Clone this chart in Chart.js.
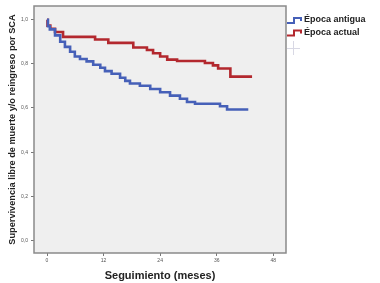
<!DOCTYPE html>
<html><head><meta charset="utf-8">
<script src="https://cdn.jsdelivr.net/npm/chart.js@4"></script>
<style>html,body{margin:0;padding:0;background:#fff}#w{width:380px;height:283px}</style>
</head><body><div id="w"><canvas id="c"></canvas></div>
<script>
const seriesNames = ['Época antigua', 'Época actual'];
const tAntigua = [0, 0.2, 0.6, 1.7, 2.8, 3.8, 4.9, 5.9, 7.0, 8.4, 9.8, 11.3, 12.3, 13.7, 15.5, 16.6, 17.6, 19.7, 21.9, 24.0, 26.1, 28.2, 29.7, 31.4, 36.7, 38.2, 42.7];
const sAntigua = [1.0, 0.97, 0.956, 0.929, 0.900, 0.877, 0.855, 0.833, 0.822, 0.811, 0.796, 0.782, 0.767, 0.755, 0.737, 0.723, 0.711, 0.701, 0.686, 0.671, 0.656, 0.642, 0.627, 0.619, 0.608, 0.593, 0.593];
const tActual = [0, 0.1, 0.7, 1.7, 3.4, 10.2, 13.0, 18.3, 21.2, 22.5, 24.0, 25.5, 27.6, 33.5, 35.2, 36.3, 38.9, 43.5];
const sActual = [1.0, 0.973, 0.959, 0.944, 0.922, 0.910, 0.895, 0.874, 0.863, 0.848, 0.833, 0.819, 0.813, 0.804, 0.793, 0.779, 0.742, 0.742];
const xTicks = [0, 12, 24, 36, 48];
const yTicks = [0, 0.2, 0.4, 0.6, 0.8, 1.0];
const xTitle = 'Seguimiento (meses)';
const yTitle = 'Supervivencia libre de muerte y/o reingreso por SCA';
const colors = ['#4660b8', '#b3282e'];

const toPts = (t, s) => t.map((x, i) => ({x: x, y: s[i]}));

const boxPlugin = {
  id: 'box',
  beforeDatasetsDraw(chart) {
    const {ctx, chartArea: a} = chart;
    ctx.save();
    ctx.fillStyle = '#efefef';
    ctx.fillRect(a.left, a.top, a.right - a.left, a.bottom - a.top);
    ctx.restore();
  },
  afterDraw(chart) {
    const {ctx, chartArea: a} = chart;
    ctx.save();
    ctx.strokeStyle = '#8a8a8a';
    ctx.lineWidth = 1.5;
    ctx.strokeRect(a.left, a.top, a.right - a.left, a.bottom - a.top);
    // legend
    ctx.font = 'bold 9px "Liberation Sans", Arial, sans-serif';
    ctx.textBaseline = 'middle';
    ctx.textAlign = 'left';
    chart.data.datasets.forEach((ds, i) => {
      const y = 20 + i * 12.5;
      ctx.strokeStyle = ds.borderColor;
      ctx.lineWidth = 2;
      ctx.beginPath();
      ctx.moveTo(287, y + 3);
      ctx.lineTo(294, y + 3);
      ctx.lineTo(294, y - 2);
      ctx.lineTo(301, y - 2);
      ctx.lineTo(301, y + 1);
      ctx.stroke();
      ctx.fillStyle = '#222';
      ctx.fillText(ds.label, 304, y);
    });
    // faint crosshair artifact
    ctx.strokeStyle = '#d8d8e4';
    ctx.lineWidth = 1;
    ctx.beginPath();
    ctx.moveTo(293.5, 41); ctx.lineTo(293.5, 55);
    ctx.moveTo(287, 48.5); ctx.lineTo(300, 48.5);
    ctx.stroke();
    ctx.restore();
  }
};

new Chart(document.getElementById('c'), {
  type: 'line',
  data: {
    datasets: [
      {label: seriesNames[0], data: toPts(tAntigua, sAntigua), borderColor: colors[0], borderWidth: 2.6, stepped: 'before', pointRadius: 0, fill: false},
      {label: seriesNames[1], data: toPts(tActual, sActual), borderColor: colors[1], borderWidth: 2.6, stepped: 'before', pointRadius: 0, fill: false}
    ]
  },
  options: {
    animation: false,
    responsive: true,
    maintainAspectRatio: false,
    layout: {padding: {left: 0, right: 94, top: 1, bottom: 0}},
    plugins: {legend: {display: false}, tooltip: {enabled: false}},
    scales: {
      x: {
        type: 'linear', min: -2.76, max: 50.7,
        afterBuildTicks: s => { s.ticks = xTicks.map(v => ({value: v})); },
        afterFit: s => { s.height = 30; },
        grid: {drawOnChartArea: false, drawTicks: true, tickLength: 3, color: '#777'},
        border: {display: false},
        ticks: {font: {size: 5, family: 'Arial, sans-serif'}, color: '#555', padding: 2, maxRotation: 0, autoSkip: false,
          callback: v => String(v)},
        title: {display: true, text: xTitle, font: {size: 11, weight: 'bold', family: '"Liberation Sans", Arial, sans-serif'}, color: '#222', padding: {top: 0, bottom: 0}}
      },
      y: {
        type: 'linear', min: -0.057, max: 1.062,
        afterBuildTicks: s => { s.ticks = yTicks.map(v => ({value: v})); },
        afterFit: s => { s.width = 34; },
        grid: {drawOnChartArea: false, drawTicks: true, tickLength: 3, color: '#777'},
        border: {display: false},
        ticks: {font: {size: 5, family: 'Arial, sans-serif'}, color: '#555', padding: 3, autoSkip: false,
          callback: v => v.toFixed(1).replace('.', ',')},
        title: {display: true, text: yTitle, font: {size: 9.2, weight: 'bold', family: '"Liberation Sans", Arial, sans-serif'}, color: '#222', padding: {top: 6.5, bottom: 0}}
      }
    }
  },
  plugins: [boxPlugin]
});
</script></body></html>
